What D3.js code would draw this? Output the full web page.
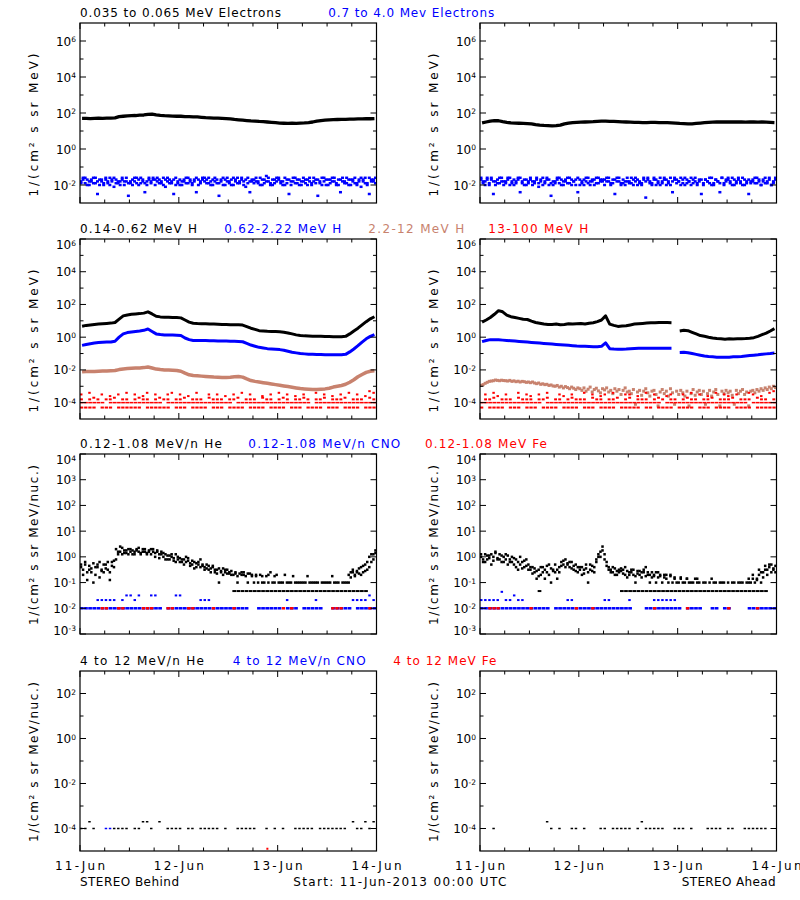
<!DOCTYPE html>
<html><head><meta charset="utf-8">
<script src="https://cdn.jsdelivr.net/npm/d3@7"></script>
<style>body{margin:0;background:#fff}svg{display:block}text{font-family:"DejaVu Sans",sans-serif;}</style>
</head><body><svg id="c" width="800" height="900"></svg>
<script>
// ===== DATA (log10 of flux, hourly = 72 samples, half-hourly = 144 samples; null = no point) =====
const rowTitles = [
  ["0.035 to 0.065 MeV Electrons","0.7 to 4.0 Mev Electrons"],
  ["0.14-0.62 MeV H","0.62-2.22 MeV H","2.2-12 MeV H","13-100 MeV H"],
  ["0.12-1.08 MeV/n He","0.12-1.08 MeV/n CNO","0.12-1.08 MeV Fe"],
  ["4 to 12 MeV/n He","4 to 12 MeV/n CNO","4 to 12 MeV Fe"]
];
const yTitles = ["1/(cm² s sr MeV)","1/(cm² s sr MeV)","1/(cm² s sr MeV/nuc.)","1/(cm² s sr MeV/nuc.)"];
const yDomainsExp = [[-3,7],[-5,6],[-3,4],[-5,3]];
const yMajorExp = [[-2,0,2,4,6],[-4,-2,0,2,4,6],[-3,-2,-1,0,1,2,3,4],[-4,-2,0,2]];
const yMinorExp = [[-1,1,3,5],[-3,-1,1,3,5],[],[-3,-1,1]];
const footer = ["STEREO Behind","Start: 11-Jun-2013 00:00 UTC","STEREO Ahead"];

// Panel 1 : electrons
const elecLoBehind = [1.70,1.70,1.69,1.70,1.71,1.70,1.71,1.72,1.73,1.80,1.82,1.84,
 1.85,1.86,1.88,1.89,1.92,1.94,1.90,1.87,1.85,1.84,1.83,1.82,
 1.82,1.80,1.80,1.79,1.78,1.76,1.74,1.73,1.72,1.71,1.70,1.69,
 1.67,1.64,1.62,1.60,1.58,1.56,1.55,1.53,1.52,1.50,1.48,1.46,
 1.44,1.43,1.42,1.43,1.42,1.44,1.45,1.47,1.50,1.55,1.58,1.60,
 1.62,1.63,1.64,1.65,1.65,1.66,1.66,1.67,1.67,1.68,1.68,1.69];
const elecLoAhead = [1.45,1.50,1.55,1.58,1.57,1.52,1.48,1.45,1.44,1.43,1.42,1.41,
 1.40,1.36,1.33,1.31,1.30,1.29,1.30,1.33,1.40,1.44,1.47,1.48,
 1.49,1.50,1.51,1.52,1.54,1.55,1.55,1.54,1.53,1.52,1.51,1.50,
 1.49,1.48,1.48,1.47,1.47,1.48,1.48,1.47,1.47,1.46,1.45,1.44,
 1.42,1.41,1.40,1.40,1.42,1.44,1.46,1.48,1.49,1.50,1.50,1.51,
 1.50,1.50,1.51,1.50,1.49,1.50,1.50,1.49,1.50,1.49,1.48,1.47];
const elecHiBehind = [-1.8,-1.6,-1.9,-1.7,-2.0,-1.8,-1.6,-1.9,-2.5,-1.7,-1.8,-2.0,
 -1.7,-1.9,-1.6,-1.8,-2.1,-1.7,-1.9,-1.8,-1.6,-2.0,-1.8,-2.6,
 -1.9,-1.7,-1.8,-1.6,-2.0,-1.9,-1.7,-2.4,-1.8,-1.6,-1.9,-1.7,
 -2.0,-1.8,-1.7,-1.9,-1.6,-2.1,-1.8,-1.7,-1.9,-2.5,-1.6,-1.8,
 -1.7,-2.0,-1.8,-1.6,-1.9,-1.7,-2.0,-1.8,-2.4,-1.7,-1.9,-1.6,
 -1.8,-1.9,-1.6,-2.0,-1.7,-1.8,-1.9,-2.6,-1.7,-1.6,-2.0,-1.8,
 -1.9,-1.7,-2.0,-1.8,-1.6,-1.9,-1.7,-1.8,-2.1,-1.6,-2.4,-1.8,
 -1.7,-1.8,-1.9,-1.6,-2.0,-1.7,-1.5,-1.8,-1.9,-2.0,-1.7,-1.8,
 -1.6,-1.9,-1.8,-2.0,-1.7,-2.5,-1.8,-1.6,-1.9,-1.7,-2.0,-1.8,
 -1.8,-1.7,-2.0,-1.6,-1.9,-1.8,-1.7,-2.6,-1.9,-1.6,-1.8,-2.0,
 -1.7,-1.9,-1.6,-1.8,-2.0,-1.7,-2.4,-1.8,-1.9,-1.6,-1.7,-2.0,
 -1.8,-1.6,-1.9,-1.7,-2.1,-1.8,-1.6,-1.9,-2.5,-1.7,-1.8,-1.6];
const elecHiBehind2 = [-1.9,-1.7,-1.6,-2.0,-1.8,-1.7,-1.9,-1.6,-1.8,-2.0,-1.7,-1.9,
 -1.6,-1.8,-2.0,-1.7,-1.6,-1.9,-1.8,-2.0,-1.7,-1.8,-1.6,-1.9,
 -1.8,-2.0,-1.6,-1.9,-1.7,-1.6,-1.8,-1.9,-2.0,-1.7,-1.8,-1.6,
 -1.7,-1.6,-1.9,-1.8,-2.0,-1.7,-1.6,-1.9,-1.8,-1.7,-2.0,-1.9,
 -2.0,-1.8,-1.7,-1.9,-1.6,-1.8,-1.9,-1.7,-1.6,-2.0,-1.8,-1.7,
 -1.6,-1.7,-1.9,-1.8,-2.0,-1.6,-1.7,-1.9,-1.8,-2.0,-1.7,-1.6,
 -1.8,-2.0,-1.6,-1.7,-1.9,-1.8,-1.6,-2.0,-1.7,-1.9,-1.8,-1.7,
 -1.9,-1.6,-1.8,-2.0,-1.7,-1.9,-1.8,-1.6,-2.0,-1.7,-1.9,-1.6,
 -1.7,-1.8,-2.0,-1.6,-1.9,-1.7,-2.0,-1.8,-1.6,-1.9,-1.7,-2.0,
 -1.6,-1.9,-1.7,-1.8,-2.0,-1.6,-1.9,-1.7,-1.8,-2.0,-1.6,-1.7,
 -2.0,-1.7,-1.8,-1.6,-1.9,-2.0,-1.7,-1.6,-1.8,-1.9,-2.0,-1.7,
 -1.7,-1.9,-2.0,-1.8,-1.6,-1.7,-1.9,-2.0,-1.6,-1.8,-1.7,-1.9];
const elecHiAhead = [-1.7,-1.9,-1.8,-1.6,-2.0,-1.7,-2.5,-1.8,-1.9,-1.6,-1.8,-2.0,
 -1.8,-1.6,-2.0,-1.9,-1.7,-1.8,-1.6,-2.4,-1.9,-1.7,-2.0,-1.8,
 -1.6,-1.8,-1.9,-1.7,-2.1,-1.8,-1.6,-1.9,-1.7,-2.0,-2.6,-1.8,
 -1.9,-1.7,-1.6,-2.0,-1.8,-1.7,-1.9,-1.6,-2.0,-1.8,-1.7,-2.4,
 -1.7,-1.8,-2.0,-1.6,-1.9,-1.8,-1.7,-2.0,-1.6,-1.9,-1.8,-1.7,
 -2.0,-1.6,-1.8,-1.9,-1.7,-2.5,-1.8,-1.6,-1.9,-1.7,-2.0,-1.8,
 -1.8,-1.9,-1.7,-1.6,-2.0,-1.8,-1.9,-1.7,-2.7,-1.6,-1.8,-1.9,
 -1.7,-2.0,-1.8,-1.6,-1.9,-1.7,-2.0,-1.8,-1.6,-2.4,-1.7,-1.9,
 -1.8,-1.6,-1.9,-2.0,-1.7,-1.8,-1.6,-1.9,-1.8,-2.0,-1.7,-2.5,
 -1.9,-1.7,-1.8,-1.6,-2.0,-1.9,-1.7,-1.8,-2.4,-1.6,-1.9,-1.7,
 -1.6,-1.8,-2.0,-1.7,-1.9,-1.6,-1.8,-2.0,-1.7,-1.9,-2.5,-1.8,
 -1.7,-1.9,-1.6,-1.8,-2.0,-1.7,-1.9,-1.8,-1.6,-2.0,-1.8,-1.7];
const elecHiAhead2 = [-1.6,-1.8,-2.0,-1.7,-1.9,-1.6,-1.8,-2.0,-1.7,-1.9,-1.6,-1.8,
 -1.9,-1.7,-1.6,-1.8,-2.0,-1.9,-1.7,-1.6,-1.8,-2.0,-1.7,-1.9,
 -1.7,-2.0,-1.8,-1.6,-1.9,-1.7,-2.0,-1.8,-1.6,-1.7,-1.9,-2.0,
 -1.8,-1.6,-1.9,-1.7,-2.0,-1.8,-1.6,-1.9,-1.7,-1.8,-2.0,-1.6,
 -2.0,-1.9,-1.7,-1.8,-1.6,-2.0,-1.8,-1.7,-1.9,-1.6,-1.7,-1.8,
 -1.7,-1.8,-1.6,-2.0,-1.9,-1.7,-1.6,-1.8,-2.0,-1.9,-1.8,-1.6,
 -1.9,-1.6,-2.0,-1.8,-1.7,-1.9,-2.0,-1.6,-1.8,-1.7,-1.9,-2.0,
 -1.6,-1.7,-1.9,-2.0,-1.8,-1.6,-1.7,-1.9,-2.0,-1.8,-1.6,-1.7,
 -1.8,-2.0,-1.7,-1.6,-1.9,-1.8,-2.0,-1.7,-1.6,-1.9,-1.8,-1.7,
 -2.0,-1.7,-1.8,-1.9,-1.6,-2.0,-1.7,-1.8,-1.9,-1.6,-2.0,-1.8,
 -1.7,-1.9,-1.6,-2.0,-1.8,-1.7,-1.9,-1.6,-2.0,-1.8,-1.7,-1.9,
 -1.8,-1.6,-1.9,-1.7,-2.0,-1.8,-1.6,-1.9,-1.7,-2.0,-1.9,-1.6];

// Panel 2 : protons
const hLoBehind = [0.67,0.72,0.75,0.78,0.80,0.82,0.84,0.86,0.90,1.10,1.30,1.36,
 1.40,1.42,1.44,1.47,1.55,1.42,1.28,1.24,1.22,1.22,1.20,1.20,
 1.18,1.05,0.92,0.85,0.83,0.82,0.82,0.80,0.80,0.79,0.78,0.78,
 0.76,0.76,0.76,0.74,0.65,0.55,0.48,0.40,0.38,0.36,0.35,0.34,
 0.33,0.30,0.26,0.20,0.14,0.10,0.08,0.07,0.06,0.06,0.05,0.04,
 0.04,0.03,0.02,0.03,0.05,0.20,0.38,0.55,0.75,0.95,1.12,1.25];
const hMidBehind = [-0.50,-0.45,-0.40,-0.36,-0.33,-0.31,-0.30,-0.30,-0.25,0.00,0.20,0.28,
 0.32,0.35,0.38,0.42,0.50,0.35,0.20,0.16,0.14,0.14,0.13,0.12,
 0.10,-0.05,-0.15,-0.20,-0.20,-0.21,-0.21,-0.22,-0.22,-0.23,-0.23,-0.24,
 -0.25,-0.25,-0.26,-0.28,-0.38,-0.48,-0.55,-0.62,-0.66,-0.70,-0.72,-0.74,
 -0.76,-0.80,-0.86,-0.92,-0.96,-1.00,-1.02,-1.04,-1.05,-1.06,-1.06,-1.07,
 -1.08,-1.08,-1.08,-1.07,-1.05,-0.90,-0.72,-0.52,-0.30,-0.10,0.05,0.15];
const hHiBehind = [-2.12,-2.10,-2.10,-2.09,-2.08,-2.07,-2.06,-2.05,-2.04,-1.98,-1.94,-1.92,
 -1.90,-1.89,-1.88,-1.86,-1.82,-1.88,-1.95,-1.98,-2.00,-2.00,-2.02,-2.04,
 -2.08,-2.20,-2.30,-2.34,-2.36,-2.38,-2.40,-2.42,-2.44,-2.45,-2.46,-2.46,
 -2.45,-2.42,-2.40,-2.44,-2.55,-2.65,-2.70,-2.74,-2.78,-2.82,-2.86,-2.90,
 -2.94,-2.98,-3.02,-3.06,-3.10,-3.14,-3.16,-3.18,-3.20,-3.20,-3.18,-3.16,
 -3.12,-3.05,-3.00,-2.95,-2.88,-2.75,-2.60,-2.42,-2.28,-2.15,-2.08,-2.05];
const hLoAhead = [0.92,1.05,1.20,1.40,1.62,1.55,1.35,1.25,1.20,1.15,1.10,1.08,
 0.98,0.90,0.85,0.80,0.78,0.78,0.80,0.76,0.78,0.82,0.80,0.82,
 0.84,0.80,0.85,0.88,0.95,1.05,1.30,0.80,0.72,0.66,0.68,0.70,
 0.75,0.80,0.82,0.84,0.86,0.88,0.88,0.90,0.90,0.89,0.88,null,
 0.38,0.42,0.40,0.30,0.20,0.10,0.06,0.00,-0.05,-0.08,-0.10,-0.12,
 -0.10,-0.11,-0.10,-0.09,-0.08,-0.06,-0.03,0.05,0.15,0.25,0.38,0.52];
const hMidAhead = [-0.27,-0.20,-0.15,-0.15,-0.16,-0.18,-0.20,-0.22,-0.24,-0.26,-0.28,-0.30,
 -0.32,-0.34,-0.36,-0.38,-0.40,-0.42,-0.44,-0.46,-0.48,-0.50,-0.52,-0.54,
 -0.55,-0.56,-0.57,-0.58,-0.58,-0.56,-0.35,-0.70,-0.72,-0.73,-0.73,-0.72,
 -0.70,-0.69,-0.68,-0.68,-0.67,-0.67,-0.68,-0.68,-0.67,-0.68,-0.68,null,
 -0.93,-0.92,-0.95,-1.00,-1.05,-1.10,-1.15,-1.18,-1.20,-1.22,-1.22,-1.23,
 -1.22,-1.20,-1.20,-1.18,-1.15,-1.12,-1.10,-1.08,-1.05,-1.02,-1.00,-0.97];
const hHiAhead = [-2.95,-2.9,-2.82,-2.76,-2.7,-2.68,-2.66,-2.62,-2.64,-2.66,-2.63,-2.65,
 -2.66,-2.68,-2.64,-2.7,-2.67,-2.72,-2.69,-2.74,-2.7,-2.72,-2.76,-2.74,
 -2.78,-2.74,-2.8,-2.84,-2.8,-2.88,-2.85,-2.9,-2.88,-2.95,-2.92,-2.98,
 -3.0,-2.95,-3.05,-3.0,-3.1,-3.02,-3.08,-3.15,-3.05,-3.12,-3.2,-3.1,
 -3.15,-3.25,-3.1,-3.3,-3.18,-3.05,-3.35,-3.2,-3.12,-3.28,-3.4,-3.15,
 -3.22,-3.1,-3.35,-3.25,-3.45,-3.15,-3.3,-3.2,-3.5,-3.25,-3.1,-3.35,
 -3.3,-3.45,-3.2,-4.1,-3.35,-3.25,-3.55,-3.3,-3.15,-3.4,-3.6,-3.3,
 -3.25,-3.5,-4.2,-3.35,-3.2,-3.45,-3.3,-3.6,-3.15,-3.4,-4.1,-3.3,
 -3.5,-3.25,-3.4,-3.6,-3.3,-4.2,-3.45,-3.2,-3.55,-3.35,-3.25,-3.5,
 -3.3,-4.1,-3.45,-3.25,-3.6,-3.35,-3.2,-3.5,-4.2,-3.3,-3.45,-3.25,
 -3.4,-3.3,-3.55,-4.1,-3.25,-3.45,-3.3,-3.2,-3.5,-3.35,-4.2,-3.3,
 -3.25,-3.4,-3.2,-3.3,-3.15,-3.25,-3.1,-3.2,-3.05,-3.15,-3.0,-3.08];
// 13-100 MeV H channels (hourly)
const hVhi1Behind = [-4.3,-4.3,-4.3,-4.3,null,-4.3,-4.3,-4.3,null,-4.3,-4.3,-4.3,
 -4.3,-4.3,-4.3,null,-4.3,-4.3,-4.3,-4.3,-4.3,-4.3,null,-4.3,
 -4.3,-4.3,null,-4.3,-4.3,-4.3,-4.3,null,-4.3,-4.3,-4.3,null,
 -4.3,-4.3,-4.3,-4.3,null,-4.3,-4.3,-4.3,-4.3,null,-4.3,-4.3,
 -4.3,-4.3,null,-4.3,-4.3,-4.3,null,-4.3,-4.3,-4.3,-4.3,null,
 -4.3,-4.3,-4.3,null,-4.3,-4.3,-4.3,-4.3,null,-4.3,-4.3,-4.3];
const hVhi2Behind = [-4,-4,-4,-4,-4,-4,null,-4,-4,-4,-4,-4,
 -4,-4,-4,-4,-4,-4,-4,-4,null,-4,-4,-4,
 -4,-4,-4,-4,-4,-4,-4,-4,-4,-4,-4,-4,
 -4,null,-4,-4,-4,-4,-4,-4,-4,-4,-4,-4,
 -4,-4,-4,-4,-4,-4,-4,-4,null,-4,-4,-4,
 -4,-4,-4,-4,-4,-4,-4,-4,-4,-4,-4,-4];
const hVhi3Behind = [-3.8,null,-3.8,-3.7,-3.8,null,-3.8,-3.8,-3.7,null,-3.8,-3.8,
 null,-3.8,-3.7,-3.8,-3.8,null,-3.8,-3.7,-3.8,-3.8,null,-3.8,
 -3.8,-3.7,null,-3.8,-3.8,-3.8,null,-3.7,-3.8,-3.8,-3.8,null,
 -3.8,-3.8,-3.7,null,-3.8,-3.8,-3.8,null,-3.7,-3.8,-3.8,null,
 -3.8,-3.7,-3.8,null,-3.8,-3.8,-3.7,-3.8,null,-3.8,-3.8,-3.7,
 null,-3.8,-3.8,-3.8,-3.7,null,-3.8,-3.8,-3.8,null,-3.7,-3.8];
const hVhi4Behind = [-3.5,null,-3.4,null,null,-3.5,null,-3.6,null,-3.5,null,-3.4,
 null,-3.5,null,-3.6,-3.4,null,-3.5,null,null,-3.5,-3.4,null,
 -3.5,null,-3.6,null,-3.4,null,null,-3.5,null,-3.5,null,-3.6,
 null,-3.5,null,-3.4,null,-3.5,null,null,-3.6,null,-3.5,null,
 -3.4,null,-3.5,null,-3.6,null,-3.5,null,null,-3.4,null,-3.5,
 null,-3.6,null,-3.5,null,-3.4,null,-3.5,null,-3.6,-3.3,-3.4];
const hVhi1Ahead = [-4.3,null,-4.3,-4.3,-4.3,-4.3,null,-4.3,-4.3,-4.3,null,-4.3,
 -4.3,-4.3,null,-4.3,-4.3,-4.3,-4.3,null,-4.3,-4.3,-4.3,-4.3,
 null,-4.3,-4.3,-4.3,null,-4.3,-4.3,-4.3,-4.3,null,-4.3,-4.3,
 -4.3,-4.3,-4.3,null,-4.3,-4.3,null,-4.3,-4.3,-4.3,-4.3,null,
 -4.3,-4.3,-4.3,-4.3,null,-4.3,-4.3,-4.3,null,-4.3,-4.3,-4.3,
 -4.3,null,-4.3,-4.3,-4.3,-4.3,null,-4.3,-4.3,-4.3,-4.3,-4.3];
const hVhi2Ahead = [-4,-4,-4,-4,-4,-4,-4,-4,-4,-4,-4,-4,
 -4,-4,-4,null,-4,-4,-4,-4,-4,-4,-4,-4,
 -4,-4,-4,-4,-4,-4,-4,-4,-4,-4,-4,-4,
 -4,-4,-4,-4,-4,-4,-4,-4,null,-4,-4,-4,
 -4,-4,-4,-4,-4,-4,-4,-4,-4,-4,-4,-4,
 -4,-4,-4,-4,-4,null,-4,-4,-4,-4,-4,-4];
const hVhi3Ahead = [null,-3.8,-3.8,-3.7,null,-3.8,-3.8,-3.8,null,-3.7,-3.8,-3.8,
 -3.8,null,-3.8,-3.8,-3.7,null,-3.8,-3.8,null,-3.8,-3.7,-3.8,
 -3.8,-3.8,null,-3.7,-3.8,-3.8,null,-3.8,-3.8,-3.7,null,-3.8,
 -3.7,null,-3.8,-3.8,-3.8,null,-3.8,-3.7,-3.8,null,-3.8,-3.8,
 null,-3.8,-3.7,-3.8,-3.8,null,-3.8,-3.8,-3.7,null,-3.8,-3.8,
 -3.8,-3.7,null,-3.8,-3.8,-3.8,null,-3.7,-3.8,-3.8,null,-3.8];
const hVhi4Ahead = [null,-3.5,null,-3.4,-3.6,null,-3.5,null,null,-3.4,null,-3.5,
 -3.6,null,-3.5,null,-3.4,null,null,-3.5,-3.6,null,-3.5,null,
 null,-3.4,null,-3.5,null,-3.6,-3.5,null,-3.4,null,null,-3.5,
 -3.5,null,-3.6,null,-3.4,null,-3.5,null,null,-3.6,-3.5,null,
 null,-3.5,null,-3.4,null,-3.5,null,-3.6,null,-3.4,null,-3.5,
 -3.6,null,-3.5,null,null,-3.4,-3.5,null,-3.6,null,-3.4,-3.3];

// Panel 3 : 0.12-1.08 MeV/n heavy ions
const heLowBehind = [-0.4,-0.7,-0.3,-0.9,-0.5,-0.6,-1.0,-0.4,-0.3,-0.8,-0.5,-0.6,
 -0.3,-0.5,-0.9,-0.2,-0.4,-0.1,0.2,0.4,0.1,0.25,0.15,0.3,
 0.2,0.25,0.1,0.3,0.2,0.15,0.3,0.2,0.1,0.25,0.3,0.2,
 0.15,0.25,0.1,0.2,0.0,0.1,-0.1,0.05,0.0,-0.15,0.1,-0.1,
 -0.05,-0.2,-0.1,0.0,-0.15,-0.25,-0.3,-0.2,-0.4,-0.3,-0.1,-0.35,
 -0.4,-0.3,-0.5,-0.45,-0.35,-0.6,-0.5,-1.0,-0.55,-0.45,-0.6,-0.5,
 -0.65,-0.55,-0.7,-0.6,-1.0,-0.65,-0.7,-0.6,-0.75,-1.0,-0.65,-0.7,
 -1.0,-0.75,-1.0,-0.7,-1.0,-1.0,-0.75,-1.0,-0.6,-1.0,-1.0,-0.7,
 -1.0,-1.0,-1.0,-0.7,-1.0,-1.0,-1.0,-0.75,-1.0,-1.0,-1.0,-1.0,
 -1.0,-1.0,-0.75,-1.0,-1.0,-1.0,-1.0,-1.0,null,-1.0,-1.0,-1.0,
 -1.0,-1.0,-0.75,-1.0,-1.0,-1.0,null,-1.0,-1.0,-1.0,-1.0,-0.8,
 -0.6,-0.7,-0.55,-0.65,-0.4,-0.6,-0.3,-0.5,0.0,-0.2,0.1,0.15];
const heLowBehind2 = [-0.3,-0.5,-0.2,-0.6,-0.35,-0.45,-0.25,-0.7,-0.4,-0.2,-0.55,-0.3,
 -0.45,-0.2,-0.6,-0.35,-0.15,0.3,0.1,0.2,0.35,0.15,0.25,0.1,
 0.3,0.1,0.2,0.25,0.35,0.1,0.2,0.3,0.15,0.2,0.1,0.3,
 0.0,0.2,-0.05,0.1,0.15,-0.1,0.05,-0.1,0.1,-0.05,-0.2,0.0,
 -0.2,-0.1,-0.3,-0.2,-0.05,-0.35,-0.15,-0.45,-0.25,-0.2,-0.4,-0.3,
 -0.5,-0.45,-0.35,-0.6,-0.4,-0.5,-0.65,-0.45,-0.6,-0.7,-0.5,-0.65,
 -0.6,-0.7,null,-0.65,-0.75,null,-0.6,-0.7,null,-0.65,null,-0.75,
 null,-0.7,null,null,-0.75,null,null,-0.7,null,null,-0.75,null,
 null,null,null,null,null,null,null,null,null,null,null,null,
 null,null,null,null,null,null,null,null,null,null,null,null,
 null,null,null,null,null,null,null,null,null,null,-0.7,-0.6,
 -0.5,-0.75,-0.6,-0.45,-0.7,-0.35,-0.55,-0.2,-0.4,0.1,-0.1,0.25];
const heLowAhead = [0.0,-0.2,0.1,-0.1,0.05,-0.3,0.0,0.15,-0.1,0.1,-0.2,0.0,
 -0.1,0.05,-0.2,0.0,-0.3,-0.1,-0.5,0.0,-0.2,-0.4,-0.1,-0.3,
 -0.5,-0.4,-0.6,-0.85,-0.5,-0.7,-0.4,-0.85,-0.6,-0.3,-1.0,-0.5,
 -0.6,-0.85,-0.4,-0.2,-0.3,-0.1,-0.25,-0.4,-0.2,-0.5,-0.3,-0.6,
 -0.4,-0.7,-0.5,-0.3,-1.0,-0.5,-0.35,-0.6,-0.2,0.0,0.2,0.4,
 0.1,-0.2,-0.4,-0.5,-0.6,-0.45,-0.7,-0.5,-0.55,-0.65,-0.4,-0.8,
 -0.6,-0.5,-0.7,-1.0,-0.65,-0.55,-0.8,-0.6,-0.4,-0.7,-1.0,-0.6,
 -0.7,-1.0,-0.6,-0.75,-1.0,-0.7,-0.85,-1.0,-0.7,-1.0,-0.85,-1.0,
 -1.0,-0.85,-1.0,-1.0,-0.85,-1.0,-1.0,-1.0,-0.85,-1.0,-1.0,null,
 -1.0,-1.0,null,-1.0,-0.85,-1.0,-1.0,null,-1.0,-1.0,-1.0,null,
 -1.0,null,-1.0,-1.0,null,-1.0,-1.0,-1.0,null,-1.0,-1.0,-1.0,
 -0.85,-1.0,-0.9,-0.7,-1.0,-0.6,-0.5,-0.7,-0.4,-0.3,-0.5,-0.6];
const heLowAhead2 = [0.1,-0.1,-0.2,0.05,-0.05,0.1,-0.15,0.2,-0.05,-0.1,0.05,-0.2,
 0.1,-0.3,-0.1,-0.2,-0.05,-0.4,-0.2,-0.3,-0.45,-0.15,-0.35,-0.5,
 -0.4,-0.65,-0.45,-0.55,-0.75,-0.4,-0.6,-0.5,-0.35,-0.7,-0.45,-0.55,
 -0.3,-0.5,-0.6,-0.35,-0.15,-0.4,-0.3,-0.2,-0.45,-0.35,-0.55,-0.4,
 -0.5,-0.4,-0.65,-0.45,-0.6,-0.3,-0.55,-0.4,-0.1,0.1,0.0,0.25,
 -0.1,-0.35,-0.5,-0.6,-0.4,-0.7,-0.55,-0.6,-0.45,-0.5,-0.7,-0.55,
 -0.7,-0.6,-0.5,-0.75,-0.55,-0.7,-0.6,-0.5,-0.75,-0.6,-0.7,-0.8,
 -0.75,-0.6,-0.8,-0.7,null,-0.8,-0.7,null,-0.75,null,-0.8,null,
 null,-0.8,null,null,-0.85,null,null,null,null,-0.85,null,null,
 null,null,null,null,null,null,null,null,null,null,null,null,
 null,null,null,null,null,null,null,null,null,null,-0.85,null,
 -0.7,null,-0.85,-0.5,-0.6,-0.8,-0.35,-0.5,-0.3,-0.6,-0.45,-0.35];
const heFloorBehind = [null,null,null,null,null,null,null,null,null,null,null,null,
 null,null,null,null,null,null,null,null,null,null,null,null,
 null,null,null,null,null,null,null,null,null,null,null,null,
 null,-1.33,-1.33,-1.33,-1.33,-1.33,-1.33,-1.33,-1.33,-1.33,-1.33,-1.33,
 -1.33,-1.33,-1.33,-1.33,-1.33,-1.33,-1.33,-1.33,-1.33,-1.33,-1.33,-1.33,
 -1.33,-1.33,-1.33,-1.33,-1.33,-1.33,-1.33,-1.33,-1.33,-1.33,null,null];
const heFloorAhead = [null,null,null,null,null,null,null,null,null,null,null,null,
 null,null,-1.33,null,null,null,null,null,null,null,null,null,
 null,null,null,null,null,null,null,null,null,null,-1.33,-1.33,
 -1.33,-1.33,-1.33,-1.33,-1.33,-1.33,-1.33,-1.33,-1.33,-1.33,-1.33,-1.33,
 -1.33,-1.33,-1.33,-1.33,-1.33,-1.33,-1.33,-1.33,-1.33,-1.33,-1.33,-1.33,
 -1.33,-1.33,-1.33,-1.33,-1.33,-1.33,-1.33,-1.33,-1.33,-1.33,null,null];
const cnoLowBehind = [-2,-2,-2,-2,-2,-2,-2,-2,-2,-2,-2,-2,
 -2,-2,-2,-2,-2,-2,-2,-2,null,-2,-2,-2,
 -2,-2,-2,-2,-2,-2,-2,-2,-2,-2,-2,-2,
 -2,-2,-2,-2,-2,null,null,-2,-2,-2,-2,-2,
 -2,null,-2,-2,-2,null,-2,-2,-2,-2,-2,null,
 null,-2,-2,-2,-2,-2,null,-2,-2,-2,-2,-2];
const cnoUpBehind = [null,null,null,null,-1.68,-1.68,-1.68,-1.68,-1.68,null,-1.68,-1.5,
 -1.5,-1.68,-1.5,null,null,-1.5,-1.5,null,null,null,null,-1.5,
 -1.5,null,null,null,null,-1.68,-1.68,-1.68,null,null,null,null,
 null,null,null,null,null,null,null,null,null,null,null,null,
 null,null,-1.68,null,null,null,null,null,null,-1.68,null,null,
 null,null,null,null,null,null,-1.68,-1.68,-1.68,-1.68,-1.5,-1.68];
const feLowBehind = [null,null,null,null,null,-2,-2,null,null,-2,-2,null,
 null,null,null,-2,-2,-2,null,null,null,-2,-2,null,
 null,null,-2,-2,null,null,null,null,-2,null,null,null,
 null,-2,null,null,null,null,null,null,null,null,null,null,
 null,-2,null,-2,null,null,null,null,null,null,null,null,
 null,-2,-2,-2,null,null,null,null,null,null,-2,null];
const cnoLowAhead = [-2,-2,-2,-2,-2,-2,-2,-2,-2,-2,-2,-2,
 -2,-2,-2,-2,-2,null,-2,-2,-2,-2,-2,-2,
 -2,-2,-2,-2,-2,-2,-2,-2,-2,-2,-2,-2,
 -2,null,null,null,-2,-2,-2,-2,-2,-2,-2,-2,
 -2,null,-2,-2,-2,-2,null,null,-2,-2,null,-2,
 -2,null,null,null,null,-2,-2,-2,-2,-2,-2,-2];
const cnoUpAhead = [-1.68,-1.68,-1.68,-1.68,-1.68,-1.36,-1.68,-1.68,-1.5,-1.68,-1.68,null,
 null,null,null,null,null,null,null,null,null,-1.68,-1.68,null,
 null,null,null,null,null,null,-1.68,-1.68,null,null,null,null,
 -1.68,null,null,null,null,null,-1.68,-1.68,-1.68,-1.68,-1.68,-1.68,
 null,null,null,null,null,null,null,null,null,null,null,null,
 null,null,null,null,null,null,null,null,null,null,null,null];
const feLowAhead = [null,null,-2,-2,-2,null,null,null,null,null,null,null,
 -2,null,null,null,null,null,null,null,null,null,null,-2,
 null,null,null,-2,null,null,null,null,null,null,null,null,
 null,null,null,null,null,null,-2,null,null,null,null,null,
 null,null,-2,null,null,null,null,null,null,null,null,null,
 -2,null,null,null,null,null,null,-2,null,null,null,null];

// Panel 4 : 4-12 MeV/n heavy ions
const heHighBehind = [-4,-4,-3.7,-4,null,null,null,null,-4,-4,-4,-4,
 null,-4,-4,-3.7,-3.7,-4,null,-3.7,null,-4,-4,-4,
 -4,null,-4,-4,null,-4,-4,-4,-4,-4,null,-4,
 null,null,-4,-4,-4,-4,-4,null,null,-4,null,-4,
 null,-4,null,null,-4,-4,-4,-4,-4,null,-4,-4,
 -4,-4,-4,-4,-4,null,-3.7,-4,-4,-3.7,-4,-3.7];
const cnoHighBehind = [null,null,null,null,null,null,-4,-4,null,null,null,null,
 null,null,null,null,null,null,null,null,null,null,null,null,
 null,null,null,null,null,null,null,null,null,null,null,null,
 null,null,null,null,null,null,null,null,null,null,null,null,
 null,null,null,null,null,null,null,null,null,null,null,null,
 null,null,null,null,null,null,null,null,null,null,null,null];
const feHighBehind = [null,null,null,null,null,null,null,null,null,null,null,null,
 null,null,null,null,null,null,null,null,null,null,null,null,
 null,null,null,null,null,null,null,null,null,null,null,null,
 null,null,null,null,null,null,null,null,null,-4.9,null,null,
 null,null,null,null,null,null,null,null,null,null,null,null,
 null,null,null,null,null,null,null,null,null,null,null,null];
const heHighAhead = [null,null,null,-4,null,null,null,null,null,null,null,null,
 null,null,null,null,-3.7,-4,null,-4,null,null,-4,-4,
 null,-4,null,null,null,-4,-4,null,-4,-4,-4,-4,
 -4,null,-4,-3.7,-4,-4,-4,-4,-4,null,null,-4,
 -4,-4,null,-4,null,null,null,-4,-4,-4,-4,null,
 -4,-4,null,null,-4,-4,-4,-4,-4,-4,null,null];

// ===== DRAWING =====
const BLACK="#000000", BLUE="#0000ff", TAN="#c8826e", RED="#ff0000";
const svg = d3.select("#c");
const t0 = new Date(Date.UTC(2013,5,11)), t1 = new Date(Date.UTC(2013,5,14));
const cols = [{x0:80,x1:376.5},{x0:480,x1:776.5}];
const rows = [{top:23,h:180},{top:239,h:180},{top:454,h:180},{top:671,h:180}];

function tAt(i,n,off){ return new Date(+t0 + (i+off)*(t1-t0)/n); }
function pts(vals){ const n=vals.length; return vals.map((v,i)=>({i,n,v})).filter(d=>d.v!=null); }

function drawLine(g,x,y,vals,color,w){
  const n=vals.length;
  const line=d3.line().defined(d=>d.v!=null).x(d=>x(tAt(d.i,n,0.5))).y(d=>y(Math.pow(10,d.v)));
  g.append("path").datum(vals.map((v,i)=>({i,v}))).attr("d",line)
   .attr("fill","none").attr("stroke",color).attr("stroke-width",w).attr("stroke-linejoin","round");
}
function drawDots(g,x,y,vals,color,w,h,off){
  const o = off||0.5;
  g.append("g").selectAll("rect").data(pts(vals)).join("rect")
   .attr("x",d=>x(tAt(d.i,d.n,o))-w/2).attr("y",d=>y(Math.pow(10,d.v))-h/2)
   .attr("width",w).attr("height",h).attr("fill",color);
}
function drawDash(g,x,y,vals,color,h,frac){
  g.append("g").selectAll("rect").data(pts(vals)).join("rect")
   .attr("x",d=>x(tAt(d.i,d.n,0)))
   .attr("y",d=>y(Math.pow(10,d.v))-h/2)
   .attr("width",d=>(x(tAt(d.i,d.n,1))-x(tAt(d.i,d.n,0)))*frac)
   .attr("height",h).attr("fill",color);
}

const series = [
  [ [ {k:"line",d:elecLoBehind,c:BLACK,w:3.3}, {k:"dots",d:elecHiBehind,c:BLUE,w:3,h:2.5}, {k:"dots",d:elecHiBehind2,c:BLUE,w:3,h:2.5,o:0.0} ],
    [ {k:"line",d:elecLoAhead,c:BLACK,w:3.3}, {k:"dots",d:elecHiAhead,c:BLUE,w:3,h:2.5}, {k:"dots",d:elecHiAhead2,c:BLUE,w:3,h:2.5,o:0.0} ] ],
  [ [ {k:"line",d:hLoBehind,c:BLACK,w:3}, {k:"line",d:hMidBehind,c:BLUE,w:3}, {k:"line",d:hHiBehind,c:TAN,w:3.5},
      {k:"dash",d:hVhi1Behind,c:RED,h:2,f:0.8}, {k:"dash",d:hVhi2Behind,c:RED,h:1.5,f:0.9},
      {k:"dash",d:hVhi3Behind,c:RED,h:2,f:0.7}, {k:"dash",d:hVhi4Behind,c:RED,h:2,f:0.6} ],
    [ {k:"line",d:hLoAhead,c:BLACK,w:3}, {k:"line",d:hMidAhead,c:BLUE,w:3}, {k:"dots",d:hHiAhead,c:TAN,w:3,h:3},
      {k:"dash",d:hVhi1Ahead,c:RED,h:2,f:0.8}, {k:"dash",d:hVhi2Ahead,c:RED,h:1.5,f:0.9},
      {k:"dash",d:hVhi3Ahead,c:RED,h:2,f:0.7}, {k:"dash",d:hVhi4Ahead,c:RED,h:2,f:0.6} ] ],
  [ [ {k:"dots",d:heLowBehind,c:BLACK,w:2.5,h:2.5}, {k:"dots",d:heLowBehind2,c:BLACK,w:2.5,h:2.5,o:0.0},
      {k:"dash",d:heFloorBehind,c:BLACK,h:2,f:0.9},
      {k:"dash",d:cnoUpBehind,c:BLUE,h:2,f:0.6}, {k:"dash",d:cnoLowBehind,c:BLUE,h:2.5,f:0.9},
      {k:"dash",d:feLowBehind,c:RED,h:2.5,f:0.8} ],
    [ {k:"dots",d:heLowAhead,c:BLACK,w:2.5,h:2.5}, {k:"dots",d:heLowAhead2,c:BLACK,w:2.5,h:2.5,o:0.0},
      {k:"dash",d:heFloorAhead,c:BLACK,h:2,f:0.9},
      {k:"dash",d:cnoUpAhead,c:BLUE,h:2,f:0.6}, {k:"dash",d:cnoLowAhead,c:BLUE,h:2.5,f:0.9},
      {k:"dash",d:feLowAhead,c:RED,h:2.5,f:0.8} ] ],
  [ [ {k:"dash",d:heHighBehind,c:BLACK,h:1.5,f:0.6}, {k:"dash",d:cnoHighBehind,c:BLUE,h:1.5,f:0.6},
      {k:"dots",d:feHighBehind,c:RED,w:2,h:2} ],
    [ {k:"dash",d:heHighAhead,c:BLACK,h:1.5,f:0.6} ] ]
];

const fmtDay = d3.utcFormat("%d-%b");
const sixHours = d3.utcHour.every(6).range(t0, new Date(+t1+1));
const days = d3.utcDay.range(t0, new Date(+t1+1));

rows.forEach((r,ri)=>cols.forEach((c,ci)=>{
  const x=d3.scaleUtc().domain([t0,t1]).range([c.x0,c.x1]);
  const y=d3.scaleLog().domain([Math.pow(10,yDomainsExp[ri][0]),Math.pow(10,yDomainsExp[ri][1])]).range([r.top+r.h,r.top]);
  const g=svg.append("g");
  const cid="clip"+ri+ci;
  g.append("clipPath").attr("id",cid).append("rect").attr("x",c.x0).attr("y",r.top).attr("width",c.x1-c.x0).attr("height",r.h);
  const dg=g.append("g").attr("clip-path","url(#"+cid+")");
  series[ri][ci].forEach(s=>{
    if(s.k==="line") drawLine(dg,x,y,s.d,s.c,s.w);
    else if(s.k==="dots") drawDots(dg,x,y,s.d,s.c,s.w,s.h,s.o);
    else drawDash(dg,x,y,s.d,s.c,s.h,s.f);
  });
  // frame
  g.append("rect").attr("x",c.x0).attr("y",r.top).attr("width",c.x1-c.x0).attr("height",r.h)
   .attr("fill","none").attr("stroke","#000").attr("stroke-width",1.2);
  // x ticks
  sixHours.forEach(t=>{
    const len = t.getUTCHours()===0 ? 6 : 3.5, xx=x(t);
    g.append("line").attr("x1",xx).attr("x2",xx).attr("y1",r.top+r.h).attr("y2",r.top+r.h-len).attr("stroke","#000");
    g.append("line").attr("x1",xx).attr("x2",xx).attr("y1",r.top).attr("y2",r.top+len).attr("stroke","#000");
  });
  // y ticks
  const yt=(e,len)=>{ const yy=y(Math.pow(10,e));
    g.append("line").attr("x1",c.x0).attr("x2",c.x0+len).attr("y1",yy).attr("y2",yy).attr("stroke","#000");
    g.append("line").attr("x1",c.x1-len).attr("x2",c.x1).attr("y1",yy).attr("y2",yy).attr("stroke","#000"); };
  yMajorExp[ri].forEach(e=>yt(e,6));
  yMinorExp[ri].forEach(e=>yt(e,3.5));
  const [lo,hi]=yDomainsExp[ri];
  yMajorExp[ri].forEach(e=>{
    const yy=y(Math.pow(10,e));
    const shift = e===hi ? 5.5 : (e===lo ? -4 : 0);   // edge labels kept inside the frame
    const tx=g.append("text").attr("x",c.x0-4).attr("y",yy+4.5+shift).attr("text-anchor","end").attr("font-size",12).text("10");
    tx.append("tspan").attr("dy",-3.5).attr("font-size",7.5).text(String(e));
  });
  // y title
  const yc = r.top + r.h/2 + (ri<2 ? 12 : 1);
  g.append("text").attr("transform",`translate(${c.x0-42.5},${yc}) rotate(-90)`).attr("text-anchor","middle")
   .attr("font-size",12).attr("textLength", ri<2 ? 143 : 160).attr("lengthAdjust","spacing").text(yTitles[ri]);
  // x labels bottom row
  if(ri===3){
    days.forEach(d=>{
      g.append("text").attr("x",x(d)-25).attr("y",870).attr("font-size",12)
       .attr("textLength",50).attr("lengthAdjust","spacing").text(fmtDay(d));
    });
  }
}));

// titles
const titleLayout = [
  [{x:80,w:201,c:BLACK},{x:328.3,w:166,c:BLUE}],
  [{x:80,w:117,c:BLACK},{x:224.3,w:117,c:BLUE},{x:368.3,w:96,c:TAN},{x:488.3,w:100,c:RED}],
  [{x:80,w:142,c:BLACK},{x:248.3,w:152,c:BLUE},{x:425,w:122,c:RED}],
  [{x:80,w:124,c:BLACK},{x:232.7,w:133,c:BLUE},{x:393.3,w:103,c:RED}]
];
rowTitles.forEach((ts,ri)=>ts.forEach((t,k)=>{
  const L=titleLayout[ri][k];
  svg.append("text").attr("x",L.x).attr("y",rows[ri].top-6).attr("font-size",12).attr("fill",L.c)
   .attr("textLength",L.w).attr("lengthAdjust","spacing").text(t);
}));
// footer
const footLayout=[{x:80,w:99},{x:293.3,w:213},{x:681.7,w:94}];
footer.forEach((t,k)=>{
  svg.append("text").attr("x",footLayout[k].x).attr("y",886).attr("font-size",12)
   .attr("textLength",footLayout[k].w).attr("lengthAdjust","spacing").text(t);
});
</script></body></html>
